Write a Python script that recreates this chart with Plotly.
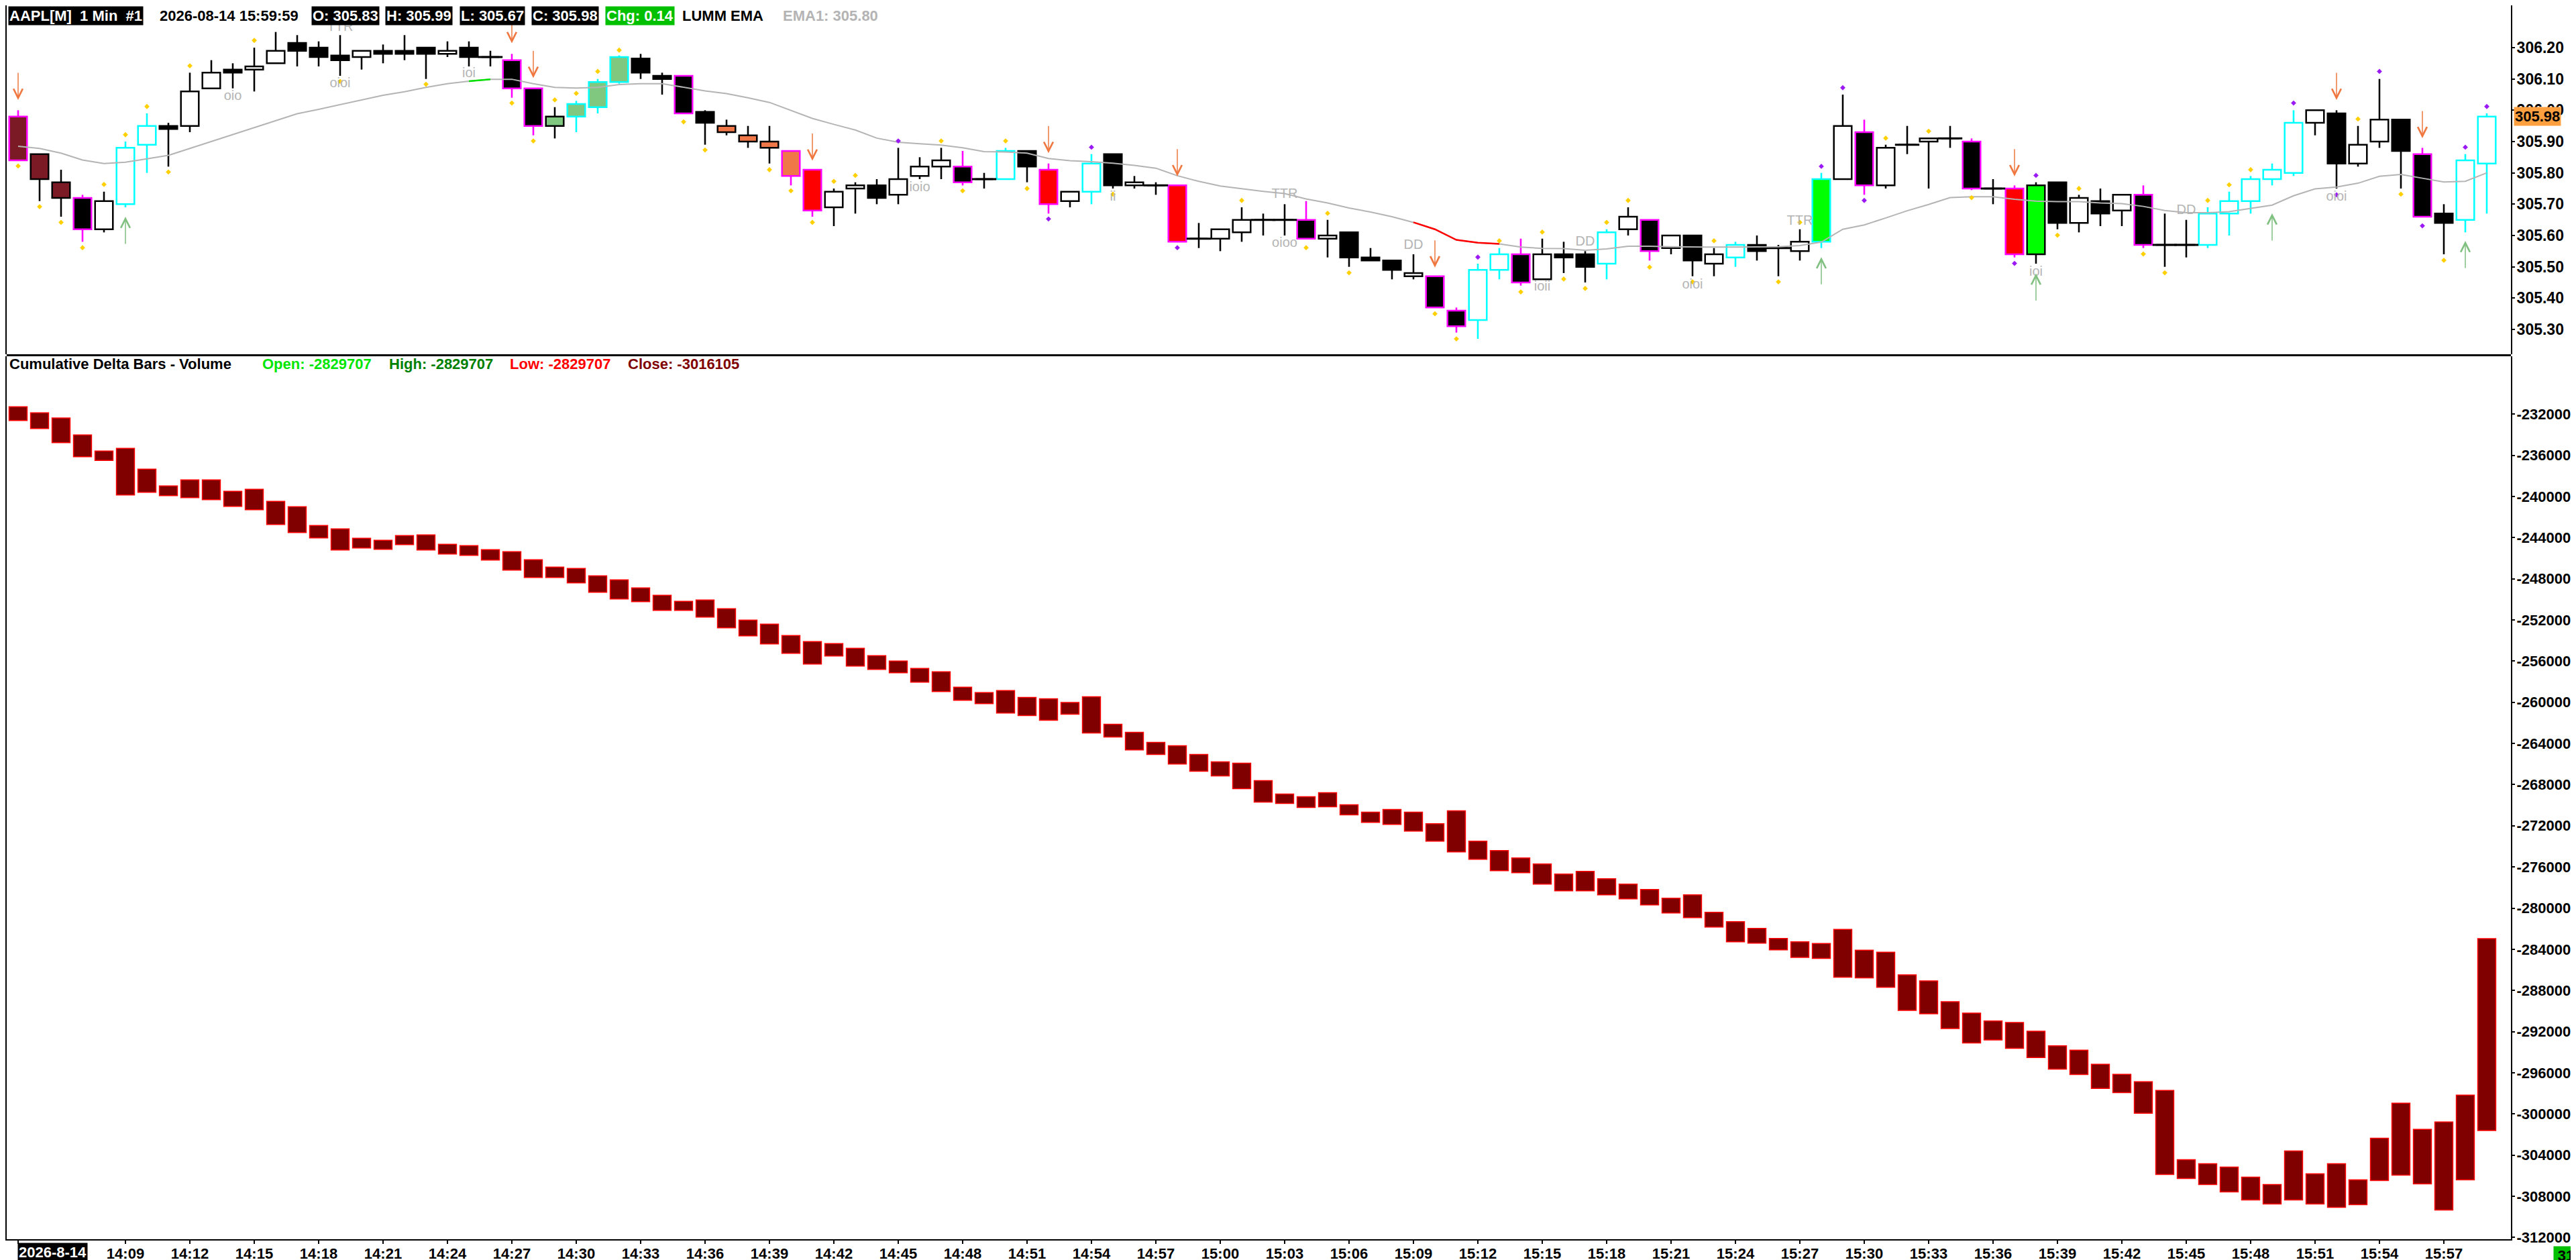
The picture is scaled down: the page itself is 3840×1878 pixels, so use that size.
import plotly.graph_objects as go

# one bar per minute, bar 0 = 14:04, last bar = 15:59
opens = [305.98, 305.86, 305.77, 305.72, 305.62, 305.70, 305.89, 305.95, 305.95, 306.07,
         306.13, 306.13, 306.15, 306.215, 306.20, 306.175, 306.17, 306.19, 306.19, 306.20,
         306.18, 306.20, 306.17, 306.16, 306.07, 305.95, 305.98, 306.01, 306.09, 306.165,
         306.11, 306.11, 305.995, 305.95, 305.92, 305.90, 305.87, 305.81, 305.69, 305.75,
         305.76, 305.73, 305.79, 305.82, 305.82, 305.78, 305.78, 305.87, 305.81, 305.71,
         305.74, 305.86, 305.76, 305.76, 305.76, 305.59, 305.59, 305.61, 305.65, 305.65,
         305.65, 305.59, 305.61, 305.53, 305.52, 305.47, 305.47, 305.36, 305.33, 305.49,
         305.54, 305.46, 305.54, 305.54, 305.51, 305.62, 305.65, 305.56, 305.60, 305.51,
         305.53, 305.57, 305.56, 305.55, 305.58, 305.78, 305.93, 305.76, 305.89, 305.90,
         305.91, 305.90, 305.75, 305.75, 305.54, 305.77, 305.64, 305.71, 305.68, 305.73,
         305.57, 305.57, 305.57, 305.67, 305.71, 305.78, 305.80, 305.96, 305.99, 305.83,
         305.90, 305.97, 305.86, 305.67, 305.65, 305.83]
highs = [306.00, 305.86, 305.81, 305.73, 305.74, 305.90, 305.99, 305.96, 306.12, 306.16,
         306.15, 306.20, 306.25, 306.24, 306.22, 306.24, 306.19, 306.21, 306.24, 306.20,
         306.22, 306.22, 306.19, 306.18, 306.07, 306.01, 306.03, 306.10, 306.175, 306.18,
         306.12, 306.11, 306.00, 305.97, 305.95, 305.95, 305.87, 305.81, 305.75, 305.77,
         305.78, 305.88, 305.85, 305.88, 305.87, 305.80, 305.88, 305.87, 305.83, 305.74,
         305.86, 305.86, 305.79, 305.77, 305.76, 305.64, 305.62, 305.69, 305.67, 305.70,
         305.71, 305.65, 305.61, 305.56, 305.52, 305.54, 305.47, 305.37, 305.51, 305.56,
         305.59, 305.59, 305.58, 305.55, 305.62, 305.69, 305.65, 305.60, 305.60, 305.56,
         305.58, 305.60, 305.57, 305.62, 305.80, 306.05, 305.97, 305.89, 305.95, 305.91,
         305.95, 305.91, 305.78, 305.76, 305.77, 305.77, 305.73, 305.75, 305.73, 305.76,
         305.67, 305.65, 305.69, 305.74, 305.79, 305.83, 306.00, 306.00, 306.00, 305.95,
         306.10, 305.97, 305.88, 305.70, 305.86, 305.99]
lows = [305.84, 305.71, 305.66, 305.58, 305.61, 305.69, 305.80, 305.82, 305.93, 306.07,
        306.07, 306.06, 306.15, 306.14, 306.14, 306.11, 306.13, 306.15, 306.16, 306.10,
        306.17, 306.14, 306.14, 306.04, 305.92, 305.91, 305.93, 305.99, 306.085, 306.10,
        306.05, 305.99, 305.89, 305.92, 305.88, 305.83, 305.76, 305.66, 305.63, 305.67,
        305.70, 305.70, 305.78, 305.78, 305.76, 305.75, 305.78, 305.77, 305.67, 305.69,
        305.70, 305.75, 305.75, 305.73, 305.58, 305.56, 305.55, 305.58, 305.60, 305.60,
        305.59, 305.53, 305.50, 305.52, 305.46, 305.46, 305.37, 305.29, 305.27, 305.46,
        305.44, 305.46, 305.48, 305.45, 305.46, 305.60, 305.52, 305.54, 305.47, 305.47,
        305.50, 305.52, 305.47, 305.52, 305.56, 305.78, 305.73, 305.75, 305.86, 305.75,
        305.88, 305.745, 305.70, 305.53, 305.51, 305.62, 305.61, 305.63, 305.63, 305.56,
        305.50, 305.53, 305.56, 305.60, 305.67, 305.76, 305.79, 305.92, 305.75, 305.82,
        305.88, 305.75, 305.66, 305.54, 305.61, 305.67]
closes = [305.84, 305.78, 305.72, 305.62, 305.71, 305.88, 305.95, 305.94, 306.06, 306.12,
          306.12, 306.14, 306.19, 306.19, 306.17, 306.16, 306.19, 306.18, 306.18, 306.18,
          306.19, 306.17, 306.17, 306.07, 305.95, 305.98, 306.02, 306.09, 306.17, 306.12,
          306.10, 305.99, 305.96, 305.93, 305.90, 305.88, 305.79, 305.68, 305.74, 305.76,
          305.72, 305.78, 305.82, 305.84, 305.77, 305.78, 305.87, 305.82, 305.70, 305.74,
          305.83, 305.76, 305.77, 305.76, 305.58, 305.59, 305.62, 305.65, 305.65, 305.65,
          305.59, 305.60, 305.53, 305.52, 305.49, 305.48, 305.37, 305.31, 305.49, 305.54,
          305.45, 305.54, 305.53, 305.50, 305.61, 305.66, 305.55, 305.60, 305.52, 305.54,
          305.57, 305.55, 305.56, 305.58, 305.78, 305.95, 305.76, 305.88, 305.89, 305.91,
          305.91, 305.75, 305.75, 305.54, 305.76, 305.64, 305.72, 305.67, 305.73, 305.57,
          305.57, 305.57, 305.67, 305.71, 305.78, 305.81, 305.96, 306.00, 305.83, 305.89,
          305.97, 305.87, 305.66, 305.64, 305.84, 305.98]

# candle paint codes (body fill / outline+wick)
fill_codes = ("mmmkwwwkww" "kwwkkkwkkk" "wkkkkggggk" "kkkoooorww" "kwwwkkwkrw"
              "wkwkrkwwkk" "kwkkkwkkww" "kwkkwwkwkw" "wkkwGwkwkw" "kkkrGkwkwk"
              "kkwwwwwwkw" "wkkkww")
edge_codes = ("pkkpkcckkk" "kkkkkkkkkk" "kkkppkccck" "kpkkkkppkk" "kkkkpkckpk"
              "ckkkpkkkkk" "pkkkkkppcc" "pkkkckpkkk" "ckkkckpkkk" "kpkpkkkkkp"
              "kkccccckkk" "kkpkcc")

ema = [305.885, 305.878, 305.863, 305.841, 305.830, 305.834, 305.845, 305.856, 305.878, 305.900,
       305.922, 305.944, 305.966, 305.989, 306.003, 306.018, 306.033, 306.048, 306.059, 306.073,
       306.085, 306.093, 306.099, 306.099, 306.085, 306.073, 306.071, 306.073, 306.082, 306.085,
       306.085, 306.073, 306.062, 306.053, 306.040, 306.025, 306.000, 305.974, 305.955, 305.937,
       305.911, 305.898, 305.893, 305.889, 305.880, 305.868, 305.867, 305.863, 305.846, 305.839,
       305.836, 305.831, 305.824, 305.815, 305.791, 305.773, 305.758, 305.749, 305.741, 305.734,
       305.717, 305.704, 305.688, 305.675, 305.660, 305.642, 305.620, 305.586, 305.577, 305.573,
       305.563, 305.559, 305.558, 305.553, 305.557, 305.566, 305.566, 305.564, 305.563, 305.563,
       305.563, 305.564, 305.564, 305.568, 305.579, 305.620, 305.634, 305.656, 305.679, 305.699,
       305.721, 305.724, 305.724, 305.716, 305.710, 305.708, 305.708, 305.704, 305.702, 305.693,
       305.680, 305.673, 305.673, 305.676, 305.686, 305.697, 305.727, 305.749, 305.755, 305.767,
       305.789, 305.795, 305.783, 305.771, 305.773, 305.800]
ema_green_idx = [21, 22]
ema_red_idx = [65, 66, 67, 68, 69]

yellow_idx = [0, 1, 2, 3, 4, 5, 6, 7, 8, 11, 15, 19, 23, 24, 25, 26, 27, 28, 31, 32,
              35, 36, 37, 38, 39, 43, 44, 46, 47, 51, 57, 60, 61, 62, 66, 67, 69, 70, 71, 72,
              73, 74, 75, 76, 78, 79, 82, 83, 87, 89, 91, 95, 96, 99, 100, 102, 103, 104, 109, 111,
              113]
yellow_px = [305.822, 305.692, 305.642, 305.561, 305.763, 305.922, 306.012, 305.803, 306.142, 306.223,
             306.092, 306.083, 306.023, 305.902, 306.033, 306.054, 306.124, 306.192, 305.963, 305.873,
             305.810, 305.743, 305.642, 305.773, 305.792, 305.902, 305.743, 305.902, 305.750, 305.732,
             305.712, 305.561, 305.671, 305.481, 305.350, 305.270, 305.583, 305.420, 305.611, 305.461,
             305.431, 305.642, 305.712, 305.499, 305.452, 305.583, 305.452, 305.642, 305.911, 305.933,
             305.721, 305.601, 305.750, 305.541, 305.481, 305.712, 305.762, 305.810, 305.972, 305.732,
             305.521]
purple_idx = [41, 48, 50, 54, 68, 84, 85, 86, 93, 94, 106, 108, 110, 112, 114, 115]
purple_px = [305.902, 305.653, 305.882, 305.561, 305.531, 305.821, 306.072, 305.712, 305.511, 305.792,
             306.023, 305.730, 306.124, 305.631, 305.882, 306.012]

down_arrow_idx = [0, 23, 24, 37, 48, 54, 66, 93, 108, 112]
down_arrow_px = [306.033, 306.214, 306.103, 305.839, 305.863, 305.789, 305.498, 305.789, 306.033, 305.911]
up_arrow_idx = [5, 84, 94, 105, 114]
up_arrow_px = [305.660, 305.531, 305.479, 305.671, 305.583]

label_idx = [10, 15, 15, 21, 42, 51, 59, 59, 65, 71, 73, 78, 83, 94, 101, 108]
label_px = [306.044, 306.085, 306.265, 306.116, 305.752, 305.723, 305.730, 305.575, 305.568, 305.435,
            305.579, 305.442, 305.645, 305.483, 305.679, 305.723]
label_text = ["oio", "oioi", "TTR", "ioi", "ioio", "ii", "TTR", "oioo", "DD", "ioii",
              "DD", "oioi", "TTR", "ioi", "DD", "oioi"]

# cumulative delta bars (open = top, close = bottom)
delta_open = [-2312917, -2318784, -2323782, -2340296, -2355942, -2353334, -2373543, -2389840, -2383974, -2383974,
              -2395056, -2393100, -2404834, -2410050, -2428303, -2431562, -2440689, -2442645, -2438081, -2437429,
              -2446556, -2447860, -2451771, -2453728, -2461551, -2468722, -2470025, -2477196, -2481108, -2488930,
              -2496100, -2501968, -2500664, -2509139, -2520221, -2524132, -2535214, -2541082, -2543037, -2547601,
              -2554771, -2559987, -2567158, -2570417, -2585411, -2590626, -2588670, -2595245, -2596550, -2600249,
              -2594592, -2621352, -2629184, -2638974, -2642238, -2650723, -2657902, -2659207, -2676177, -2689231,
              -2691841, -2687925, -2699674, -2706853, -2704243, -2706853, -2717949, -2705548, -2734918, -2744056,
              -2751235, -2757109, -2766899, -2764289, -2771468, -2776690, -2781911, -2790396, -2787133, -2804102,
              -2813240, -2819766, -2829556, -2832820, -2834450, -2820740, -2840979, -2842937, -2864818, -2870696,
              -2890942, -2902045, -2909664, -2911188, -2919678, -2933829, -2937965, -2951680, -2961477, -2968661,
              -2977151, -3044420, -3048339, -3051604, -3061401, -3068585, -3035930, -3058135, -3048339, -3064013,
              -3023521, -2989560, -3015031, -3007847, -2981723, -2829707]
delta_close = [-2326172, -2333995, -2347685, -2361374, -2365069, -2398533, -2395925, -2399185, -2401140, -2403096,
               -2409615, -2412875, -2427216, -2435039, -2440254, -2451989, -2450033, -2451337, -2446773, -2451989,
               -2455900, -2457204, -2461767, -2471547, -2478717, -2478717, -2483933, -2493059, -2499578, -2502186,
               -2510660, -2510660, -2517179, -2527609, -2535432, -2543255, -2552381, -2562812, -2554989, -2564767,
               -2568026, -2571286, -2580413, -2589539, -2598014, -2601274, -2610400, -2612867, -2617436, -2611562,
               -2629837, -2633753, -2646371, -2650723, -2660078, -2667040, -2671608, -2684009, -2697063, -2698368,
               -2702284, -2701632, -2709464, -2716643, -2718601, -2725128, -2734918, -2745361, -2752541, -2763636,
               -2765594, -2776690, -2783217, -2783217, -2787133, -2791049, -2796923, -2804755, -2809323, -2818461,
               -2832820, -2834126, -2840651, -2847832, -2848814, -2867095, -2867857, -2876997, -2899432, -2902698,
               -2917066, -2931000, -2928169, -2936223, -2945149, -2956470, -2961694, -2975192, -2979328, -2999356,
               -3058789, -3062707, -3068585, -3075769, -3083606, -3087525, -3083606, -3087525, -3090790, -3088178,
               -3064666, -3059442, -3067932, -3093402, -3064013, -3016105]

time_labels = ["14:09", "14:12", "14:15", "14:18", "14:21", "14:24", "14:27", "14:30", "14:33", "14:36",
               "14:39", "14:42", "14:45", "14:48", "14:51", "14:54", "14:57", "15:00", "15:03", "15:06",
               "15:09", "15:12", "15:15", "15:18", "15:21", "15:24", "15:27", "15:30", "15:33", "15:36",
               "15:39", "15:42", "15:45", "15:48", "15:51", "15:54", "15:57"]
price_ticks = [305.30, 305.40, 305.50, 305.60, 305.70, 305.80, 305.90, 306.00, 306.10, 306.20]
delta_ticks = [-2320000, -2360000, -2400000, -2440000, -2480000, -2520000, -2560000, -2600000,
               -2640000, -2680000, -2720000, -2760000, -2800000, -2840000, -2880000, -2920000,
               -2960000, -3000000, -3040000, -3080000, -3120000]

FILL = {"k": "#000000", "w": "#FFFFFF", "m": "#7B1A24", "g": "#80C880",
        "o": "#F07848", "r": "#FF0000", "G": "#00FF00"}
EDGE = {"k": "#000000", "p": "#FF00FF", "c": "#00FFFF"}
FONT = "Liberation Sans, Arial, sans-serif"

n = len(opens)
xs = list(range(n))

fig = go.Figure()

# lower pane: cumulative delta
fig.add_trace(go.Bar(
    x=xs, y=[o - c for o, c in zip(delta_open, delta_close)], base=delta_close,
    width=0.84, yaxis="y",
    marker=dict(color="#800000", line=dict(color="#FF0000", width=1.5)),
))

# upper pane: wicks first, bodies on top
fig.add_trace(go.Bar(
    x=xs, y=[h - l for h, l in zip(highs, lows)], base=lows, width=0.08, yaxis="y2",
    marker=dict(color=[EDGE[e] for e in edge_codes], line=dict(width=0)),
))
fig.add_trace(go.Bar(
    x=xs, y=[abs(c - o) for o, c in zip(opens, closes)],
    base=[min(o, c) for o, c in zip(opens, closes)], width=0.83, yaxis="y2",
    marker=dict(color=[FILL[f] for f in fill_codes],
                line=dict(color=[EDGE[e] for e in edge_codes], width=2.5)),
))
doji = [i for i in xs if opens[i] == closes[i]]
fig.add_trace(go.Scatter(
    x=doji, y=[opens[i] for i in doji], mode="markers", yaxis="y2",
    marker=dict(symbol="line-ew", size=26, line=dict(color="#000000", width=3)),
))

# EMA line with coloured stretches
fig.add_trace(go.Scatter(x=xs, y=ema, mode="lines", yaxis="y2",
                         line=dict(color="#B4B4B4", width=2)))
fig.add_trace(go.Scatter(x=ema_green_idx, y=[ema[i] for i in ema_green_idx], mode="lines",
                         yaxis="y2", line=dict(color="#00E000", width=2.5)))
fig.add_trace(go.Scatter(x=ema_red_idx, y=[ema[i] for i in ema_red_idx], mode="lines",
                         yaxis="y2", line=dict(color="#FF0000", width=2.5)))

# dots
fig.add_trace(go.Scatter(x=yellow_idx, y=yellow_px, mode="markers", yaxis="y2",
                         marker=dict(symbol="diamond", size=6, color="#FFD000")))
fig.add_trace(go.Scatter(x=purple_idx, y=purple_px, mode="markers", yaxis="y2",
                         marker=dict(symbol="diamond", size=6, color="#9B19F5")))

# pattern labels
fig.add_trace(go.Scatter(x=label_idx, y=label_px, text=label_text, mode="text", yaxis="y2",
                         textfont=dict(family=FONT, size=20, color="#B4B4B4")))

for i, p in zip(down_arrow_idx, down_arrow_px):
    fig.add_annotation(x=i, y=p, xref="x", yref="y2", ax=0, ay=-42, text="",
                       showarrow=True, arrowhead=5, arrowsize=1.8, arrowwidth=1.5,
                       arrowcolor="#F07840")
for i, p in zip(up_arrow_idx, up_arrow_px):
    fig.add_annotation(x=i, y=p, xref="x", yref="y2", ax=0, ay=42, text="",
                       showarrow=True, arrowhead=5, arrowsize=1.8, arrowwidth=1.5,
                       arrowcolor="#80C080")

# header strips
def head(px, y, text, color, bg=None, size=22):
    fig.add_annotation(xref="paper", yref="paper", x=(px - 2) / 3733, y=y,
                       xanchor="left", yanchor="middle", text=text, showarrow=False,
                       bgcolor=bg, borderpad=1,
                       font=dict(family=FONT, size=size, color=color, weight="bold"))

top_y = 0.9913
head(4, top_y, "AAPL[M]&nbsp;&nbsp;1 Min&nbsp;&nbsp;#1", "#FFFFFF", "#000000")
head(228, top_y, "2026-08-14 15:59:59", "#000000")
head(456, top_y, "O: 305.83", "#FFFFFF", "#000000")
head(566, top_y, "H: 305.99", "#FFFFFF", "#000000")
head(677, top_y, "L: 305.67", "#FFFFFF", "#000000")
head(784, top_y, "C: 305.98", "#FFFFFF", "#000000")
head(894, top_y, "Chg: 0.14", "#FFFFFF", "#00C000")
head(1007, top_y, "LUMM EMA", "#000000")
head(1157, top_y, "EMA1: 305.80", "#B4B4B4")

low_y = 0.7096
head(4, low_y, "Cumulative Delta Bars - Volume", "#000000")
head(381, low_y, "Open: -2829707", "#00E600")
head(570, low_y, "High: -2829707", "#008000")
head(750, low_y, "Low: -2829707", "#FF0000")
head(926, low_y, "Close: -3016105", "#800000")

# last price tag, date tag, countdown
fig.add_annotation(xref="paper", yref="y2", x=1, y=closes[-1], xanchor="left", yanchor="middle",
                   xshift=4, text="%.2f" % closes[-1], showarrow=False, bgcolor="#FFA040",
                   borderpad=1, font=dict(family=FONT, size=22, color="#000000", weight="bold"))
head(18, -0.0106, "2026-8-14", "#FFFFFF", "#000000")
fig.add_annotation(xref="paper", yref="paper", x=(3836 - 2) / 3733, y=-0.0133, xanchor="right",
                   yanchor="middle", text="31", showarrow=False, bgcolor="#00C000", width=34,
                   borderpad=1, font=dict(family=FONT, size=22, color="#000000", weight="bold"))

# pane separator
fig.add_shape(type="line", xref="paper", yref="paper", x0=0, x1=1, y0=0.7164, y1=0.7164,
              line=dict(color="#000000", width=3))

axis_font = dict(family=FONT, size=22, color="#000000", weight="bold")
fig.update_layout(
    width=3840, height=1878,
    margin=dict(l=2, r=105, t=0, b=39),
    paper_bgcolor="#FFFFFF", plot_bgcolor="#FFFFFF",
    barmode="overlay", showlegend=False,
    xaxis=dict(range=[-0.53125, 116.125], tickvals=[0] + list(range(5, n, 3)),
               ticktext=[""] + time_labels, ticks="outside", ticklen=5, tickwidth=2,
               tickcolor="#000000", showline=True, linecolor="#000000", linewidth=2,
               showgrid=False, zeroline=False, automargin=False, ticklabelstandoff=-4,
               tickfont=dict(family=FONT, size=22, color="#000000", weight="bold")),
    yaxis=dict(domain=[0, 0.71561], range=[-3121707, -2263806], side="right",
               tickvals=delta_ticks, ticktext=[str(v) for v in delta_ticks],
               ticks="outside", ticklen=4, tickwidth=2, tickcolor="#000000",
               showline=True, linecolor="#000000", linewidth=2, mirror=True,
               showgrid=False, zeroline=False, automargin=False, ticklabelstandoff=-2,
               tickfont=axis_font),
    yaxis2=dict(domain=[0.71724, 1], range=[305.2208, 306.335], side="right", anchor="x",
                tickvals=price_ticks, ticktext=["%.2f" % v for v in price_ticks],
                ticks="outside", ticklen=4, tickwidth=2, tickcolor="#000000",
                showline=True, linecolor="#000000", linewidth=2, mirror=True,
                showgrid=False, zeroline=False, automargin=False, ticklabelstandoff=-2,
                tickfont=dict(family=FONT, size=23, color="#000000", weight="bold")),
)

fig.write_html("out.html")
